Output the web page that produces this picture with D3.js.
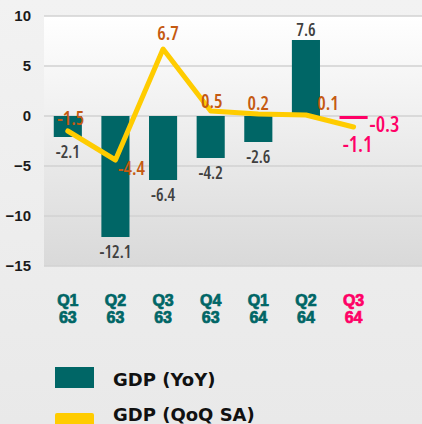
<!DOCTYPE html>
<html>
<head>
<meta charset="utf-8">
<script src="https://cdn.jsdelivr.net/npm/d3@7"></script>
<style>
  html, body { margin: 0; padding: 0; background: #ebebeb; }
  svg { display: block; }
  .num { font-family: "Open Sans", "DejaVu Sans Condensed", sans-serif; font-stretch: condensed; font-weight: 600; }
</style>
</head>
<body>
<div id="chart-area"></div>
<script>
// data
const categories = ["Q1 63", "Q2 63", "Q3 63", "Q4 63", "Q1 64", "Q2 64", "Q3 64"];
const quarterLabels = ["Q1", "Q2", "Q3", "Q4", "Q1", "Q2", "Q3"];
const yearLabels = ["63", "63", "63", "63", "64", "64", "64"];
const gdpYoY = [-2.1, -12.1, -6.4, -4.2, -2.6, 7.6, -0.3];
const gdpQoQ = [-1.5, -4.4, 6.7, 0.5, 0.2, 0.1, -1.1];
const yTicks = [10, 5, 0, -5, -10, -15];
const latest = "Q3 64";

// label placement for the line values (dx, dy from the point)
const qoqLabelOffset = [[3, -6], [16, 15], [5, -9], [1, -3], [0, -4], [22, -5], [4, 25]];

const full_width = 422, full_height = 424;
const plot = { left: 44, right: 422, top: 16, bottom: 266 };

const teal = "#006666", yellow = "#FFCC00", pink = "#FF0066",
      orange = "#C55A11", grey = "#404040";

const svg = d3.select("#chart-area")
    .append("svg")
    .attr("width", full_width)
    .attr("height", full_height);

const defs = svg.append("defs");
const bgGrad = defs.append("linearGradient").attr("id", "bg").attr("x1", 0).attr("y1", 0).attr("x2", 0).attr("y2", 1);
bgGrad.append("stop").attr("offset", "0%").attr("stop-color", "#f2f2f2");
bgGrad.append("stop").attr("offset", "100%").attr("stop-color", "#e9e9e9");
const plotGrad = defs.append("linearGradient").attr("id", "plotbg").attr("x1", 0).attr("y1", 0).attr("x2", 0).attr("y2", 1);
plotGrad.append("stop").attr("offset", "0%").attr("stop-color", "#ffffff");
plotGrad.append("stop").attr("offset", "100%").attr("stop-color", "#d9d9d9");

svg.append("rect").attr("width", full_width).attr("height", full_height).attr("fill", "url(#bg)");
svg.append("rect")
    .attr("x", plot.left).attr("y", plot.top)
    .attr("width", plot.right - plot.left).attr("height", plot.bottom - plot.top)
    .attr("fill", "url(#plotbg)");

// scales (one empty slot on the right)
const x = d3.scaleBand()
    .domain(categories.concat([""]))
    .range([plot.left, 425])
    .paddingInner(0.41)
    .paddingOuter(0.205);

const y = d3.scaleLinear()
    .domain([-15, 10])
    .range([plot.bottom, plot.top]);

const cx = d => x(d) + x.bandwidth() / 2;

// gridlines
svg.append("g").selectAll("line")
    .data(yTicks)
    .enter().append("line")
    .attr("x1", plot.left).attr("x2", plot.right)
    .attr("y1", d => y(d)).attr("y2", d => y(d))
    .attr("stroke", "#d2d2d2")
    .attr("stroke-width", 1.5);

// y axis labels
const yAxis = d3.axisLeft(y).tickValues(yTicks).tickSize(0).tickPadding(0);
const yg = svg.append("g")
    .attr("transform", "translate(31,0)")
    .call(yAxis);
yg.select(".domain").remove();
yg.selectAll("text")
    .attr("font-family", "'Liberation Sans', Arial, sans-serif")
    .attr("font-weight", "bold")
    .attr("font-size", "15px")
    .attr("fill", "#1a1a1a");

// bars
const bars = categories.map((c, i) => ({ cat: c, v: gdpYoY[i], q: gdpQoQ[i] }));

svg.append("g").selectAll("rect")
    .data(bars)
    .enter().append("rect")
    .attr("x", d => x(d.cat))
    .attr("width", x.bandwidth())
    .attr("y", d => y(Math.max(0, d.v)))
    .attr("height", d => Math.abs(y(d.v) - y(0)))
    .attr("fill", d => d.cat === latest ? pink : teal);

// line
const line = d3.line()
    .x(d => cx(d.cat))
    .y(d => y(d.q));

svg.append("path")
    .datum(bars)
    .attr("d", line)
    .attr("fill", "none")
    .attr("stroke", yellow)
    .attr("stroke-width", 5)
    .attr("stroke-linejoin", "round")
    .attr("stroke-linecap", "round");

// bar value labels
svg.append("g").selectAll("text")
    .data(bars)
    .enter().append("text")
    .attr("class", "num")
    .attr("x", d => d.cat === latest ? x(d.cat) + x.bandwidth() + 2 : cx(d.cat))
    .attr("y", d => d.cat === latest ? y(d.v) + 13 : (d.v >= 0 ? y(d.v) - 4 : y(d.v) + 21))
    .attr("text-anchor", d => d.cat === latest ? "start" : "middle")
    .attr("font-size", d => d.cat === latest ? "21px" : "17px")
    .attr("fill", d => d.cat === latest ? pink : grey)
    .text(d => d.v.toFixed(1));

// line value labels
svg.append("g").selectAll("text")
    .data(bars)
    .enter().append("text")
    .attr("class", "num")
    .attr("x", (d, i) => cx(d.cat) + qoqLabelOffset[i][0])
    .attr("y", (d, i) => y(d.q) + qoqLabelOffset[i][1])
    .attr("text-anchor", "middle")
    .attr("font-size", d => d.cat === latest ? "21px" : "19px")
    .attr("fill", d => d.cat === latest ? pink : orange)
    .text(d => d.q.toFixed(1));

// x axis labels (two lines)
const xl = svg.append("g").selectAll("text")
    .data(categories)
    .enter().append("text")
    .attr("x", d => cx(d))
    .attr("text-anchor", "middle")
    .attr("font-family", "'Liberation Sans', Arial, sans-serif")
    .attr("font-weight", "bold")
    .attr("font-size", "16px")
    .attr("fill", d => d === latest ? pink : teal)
    .attr("stroke", d => d === latest ? pink : teal)
    .attr("stroke-width", 0.7);
xl.append("tspan").attr("x", d => cx(d)).attr("y", 306).text((d, i) => quarterLabels[i]);
xl.append("tspan").attr("x", d => cx(d)).attr("y", 323).text((d, i) => yearLabels[i]);

// legend
const legend = [
    { name: "GDP (YoY)", color: teal, y: 367, ty: 19 },
    { name: "GDP (QoQ SA)", color: yellow, y: 413, ty: 8 }
];
const lg = svg.append("g").selectAll("g")
    .data(legend)
    .enter().append("g")
    .attr("transform", d => "translate(55," + d.y + ")");
lg.append("rect")
    .attr("width", 39).attr("height", 21)
    .attr("rx", (d, i) => i === 1 ? 2 : 0)
    .attr("fill", d => d.color);
lg.append("text")
    .attr("x", 58).attr("y", d => d.ty)
    .attr("font-family", "'DejaVu Sans', sans-serif")
    .attr("font-weight", "bold")
    .attr("font-size", "18px")
    .attr("fill", "#111")
    .text(d => d.name);
</script>
</body>
</html>
